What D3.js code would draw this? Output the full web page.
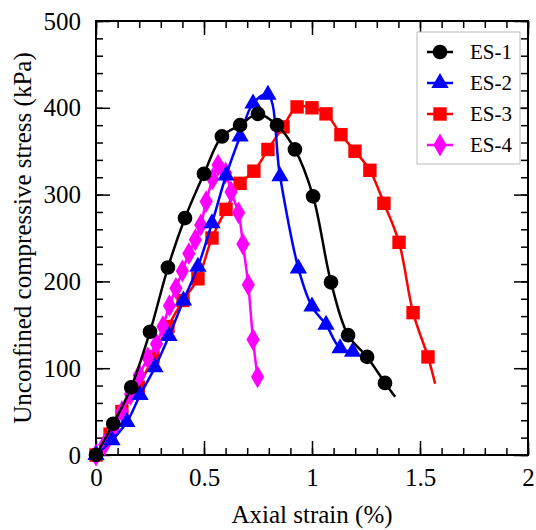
<!DOCTYPE html>
<html><head><meta charset="utf-8">
<script src="https://cdn.jsdelivr.net/npm/d3@7"></script>
<style>body{margin:0;background:#fff}svg{display:block}svg text{font-family:'Liberation Serif','DejaVu Serif','Noto Serif',serif !important;fill:#000}</style>
</head><body><svg id="c" width="536" height="530"></svg>
<script>
const es1X = [0, 0.08, 0.163, 0.25, 0.333, 0.412, 0.5, 0.583, 0.667, 0.75, 0.838, 0.921, 1.005, 1.088, 1.167, 1.255, 1.338];
const es1Y = [0, 36, 78, 142, 216, 273, 324, 367, 380, 393, 380, 352, 298, 199, 138, 113, 83];
const es1TailX = [1.385], es1TailY = [67];
const es2X = [0, 0.074, 0.143, 0.204, 0.273, 0.338, 0.405, 0.472, 0.537, 0.602, 0.667, 0.727, 0.796, 0.852, 0.937, 1.0, 1.065, 1.13, 1.188];
const es2Y = [0, 17, 38, 69, 101, 137, 178, 217, 267, 322, 367, 405, 415, 321, 215, 171, 150, 123, 119];
const es3X = [0, 0.065, 0.12, 0.196, 0.264, 0.333, 0.403, 0.472, 0.537, 0.602, 0.667, 0.731, 0.796, 0.866, 0.931, 1.0, 1.065, 1.134, 1.199, 1.268, 1.333, 1.403, 1.468, 1.537];
const es3Y = [0, 24, 50, 78, 113, 148, 178, 203, 250, 283, 313, 327, 352, 378, 401, 400, 393, 369, 350, 328, 290, 245, 164, 113];
const es3TailX = [1.57], es3TailY = [82];
const es4X = [0, 0.04, 0.08, 0.12, 0.16, 0.2, 0.24, 0.28, 0.31, 0.34, 0.37, 0.40, 0.43, 0.46, 0.485, 0.51, 0.54, 0.565, 0.60, 0.625, 0.66, 0.68, 0.705, 0.727, 0.748];
const es4Y = [0, 12, 30, 50, 70, 92, 112, 128, 148, 172, 192, 212, 232, 248, 265, 292, 318, 334, 325, 303, 279, 243, 196, 133, 90];
const seriesNames = ["ES-1", "ES-2", "ES-3", "ES-4"];
const xTicks = [0, 0.5, 1, 1.5, 2];
const yTicks = [0, 100, 200, 300, 400, 500];
const xLabel = "Axial strain (%)";
const yLabel = "Unconfined compressive stress (kPa)";

const svg = d3.select("#c");
const L = 96, R = 528, T = 21, B = 455;
const x = d3.scaleLinear().domain([0, 2]).range([L, R]);
const y = d3.scaleLinear().domain([0, 500]).range([B, T]);

const series = [
  {name: seriesNames[0], xs: es1X, ys: es1Y, tx: es1TailX, ty: es1TailY, color: "#000000", sym: "circle"},
  {name: seriesNames[1], xs: es2X, ys: es2Y, tx: [], ty: [], color: "#0000ff", sym: "triangle"},
  {name: seriesNames[2], xs: es3X, ys: es3Y, tx: es3TailX, ty: es3TailY, color: "#ff0000", sym: "square"},
  {name: seriesNames[3], xs: es4X, ys: es4Y, tx: [], ty: [], color: "#ff00ff", sym: "diamond"}
];
const symPath = {
  circle: d3.symbol().type(d3.symbolCircle).size(170)(),
  triangle: d3.symbol().type(d3.symbolTriangle).size(130)(),
  square: d3.symbol().type(d3.symbolSquare).size(180)(),
  diamond: d3.symbol().type(d3.symbolDiamond).size(150)()
};

const FF = "'Liberation Serif','DejaVu Serif','Noto Serif',serif";
const minorX = d3.range(0, 2.0001, 0.1), minorY = d3.range(0, 500.01, 20);
const axG = svg.append("g");
const mk = (axis, tr) => axG.append("g").attr("transform", tr).call(axis).call(g => g.select(".domain").remove()).attr("font-family", FF);
const fontSz = 25;
mk(d3.axisBottom(x).tickValues(minorX).tickSize(-7).tickFormat(""), `translate(0,${B})`);
mk(d3.axisTop(x).tickValues(minorX).tickSize(-7).tickFormat(""), `translate(0,${T})`);
mk(d3.axisLeft(y).tickValues(minorY).tickSize(-7).tickFormat(""), `translate(${L},0)`);
mk(d3.axisRight(y).tickValues(minorY).tickSize(-7).tickFormat(""), `translate(${R},0)`);
const bx = mk(d3.axisBottom(x).tickValues(xTicks).tickSize(-14).tickPadding(13).tickFormat(d3.format("")), `translate(0,${B})`);
mk(d3.axisTop(x).tickValues(xTicks).tickSize(-14).tickFormat(""), `translate(0,${T})`);
const ly = mk(d3.axisLeft(y).tickValues(yTicks).tickSize(-14).tickPadding(15).tickFormat(d3.format("")), `translate(${L},0)`);
mk(d3.axisRight(y).tickValues(yTicks).tickSize(-14).tickFormat(""), `translate(${R},0)`);
axG.selectAll(".tick line").attr("stroke", "#000").attr("stroke-width", 1.5);
axG.selectAll("text").attr("font-size", fontSz).attr("fill", "#000");
axG.append("rect").attr("x", L).attr("y", T).attr("width", R - L).attr("height", B - T)
  .attr("fill", "none").attr("stroke", "#000").attr("stroke-width", 2);

svg.append("text").attr("x", (L + R) / 2).attr("y", 523).attr("text-anchor", "middle")
  .attr("font-size", fontSz).text(xLabel);
svg.append("text").attr("transform", `translate(31,${(T + B) / 2}) rotate(-90)`).attr("text-anchor", "middle")
  .attr("font-size", fontSz).text(yLabel);

const line = d3.line().x(d => x(d[0])).y(d => y(d[1])).curve(d3.curveCatmullRom.alpha(0.5));
const drawOrder = [2, 3, 1, 0];
drawOrder.forEach(i => {
  const s = series[i];
  const pts = s.xs.map((v, k) => [v, s.ys[k]]).concat(s.tx.map((v, k) => [v, s.ty[k]]));
  svg.append("path").attr("d", line(pts)).attr("fill", "none").attr("stroke", s.color).attr("stroke-width", 2.5);
  svg.append("g").selectAll("path").data(s.xs.map((v, k) => [v, s.ys[k]])).join("path")
    .attr("d", symPath[s.sym]).attr("fill", s.color)
    .attr("transform", d => `translate(${x(d[0])},${y(d[1])})`);
});

const lg = svg.append("g");
lg.append("rect").attr("x", 417).attr("y", 32).attr("width", 103).attr("height", 132)
  .attr("fill", "#fff").attr("stroke", "#bbb").attr("stroke-width", 1);
series.forEach((s, i) => {
  const cy = 52 + i * 31;
  lg.append("line").attr("x1", 427).attr("x2", 453).attr("y1", cy).attr("y2", cy).attr("stroke", s.color).attr("stroke-width", 2.5);
  lg.append("path").attr("d", symPath[s.sym]).attr("fill", s.color).attr("transform", `translate(440,${cy})`);
  lg.append("text").attr("x", 470).attr("y", cy).attr("dy", "0.35em").attr("font-size", 21).text(s.name);
});
</script></body></html>
